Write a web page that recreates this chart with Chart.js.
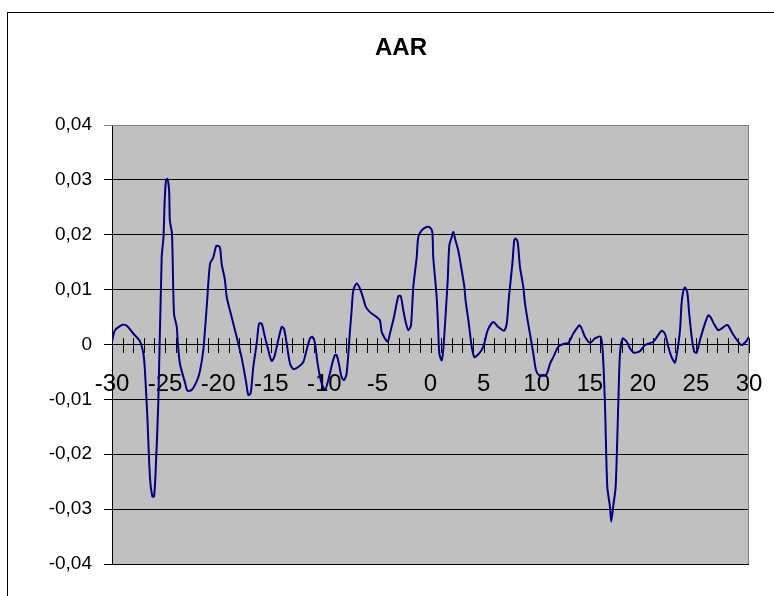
<!DOCTYPE html>
<html>
<head>
<meta charset="utf-8">
<script src="https://cdn.jsdelivr.net/npm/chart.js@4/dist/chart.umd.min.js"></script>
<style>
  html, body { margin: 0; padding: 0; background: #ffffff; }
  canvas { display: block; }
</style>
</head>
<body>
<canvas id="aar" width="774" height="596"></canvas>
<script>
// Event window (days relative to the event) and average abnormal return
const eventDays = [
  -30.00, -29.72, -29.00, -28.60, -28.00, -27.40, -27.05, -26.90, -26.67, -26.42,
  -26.20, -26.04, -25.90, -25.64, -25.32, -25.15, -25.05, -24.92, -24.78, -24.62,
  -24.55, -24.35, -24.16, -23.90, -23.80, -23.60, -23.10, -22.90, -22.50, -21.97,
  -21.70, -21.40, -21.08, -20.77, -20.46, -20.20, -20.05, -19.83, -19.67, -19.36,
  -19.20, -18.73, -18.26, -17.80, -17.40, -17.16, -16.94, -16.69, -16.37, -16.15,
  -15.90, -15.60, -15.28, -14.97, -14.72, -14.34, -14.02, -13.80, -13.55, -13.23,
  -12.92, -12.45, -11.98, -11.75, -11.35, -11.13, -10.88, -10.63, -10.30, -9.94,
  -9.63, -9.22, -9.00, -8.84, -8.60, -8.38, -8.15, -7.90, -7.58, -7.43,
  -7.27, -6.96, -6.65, -6.33, -6.08, -5.70, -5.07, -4.76, -4.60, -4.29,
  -4.03, -3.82, -3.44, -3.03, -2.80, -2.56, -2.30, -2.09, -1.84, -1.62,
  -1.30, -1.15, -0.83, -0.37, -0.05, 0.17, 0.26, 0.58, 0.73, 0.83,
  1.05, 1.20, 1.43, 1.62, 1.77, 2.00, 2.15, 2.31, 2.62, 2.94,
  3.19, 3.30, 3.57, 3.88, 4.13, 4.44, 4.82, 5.07, 5.39, 5.91,
  6.38, 6.92, 7.18, 7.39, 7.71, 7.89, 8.02, 8.21, 8.43, 8.74,
  8.90, 9.15, 9.45, 9.68, 9.94, 10.25, 10.88, 11.26, 11.57, 12.04,
  12.51, 12.98, 13.45, 14.02, 14.24, 14.55, 15.02, 15.49, 16.03, 16.22,
  16.43, 16.65, 16.90, 17.02, 17.21, 17.44, 17.69, 17.85, 18.10, 18.48,
  18.79, 19.17, 19.73, 20.20, 20.98, 21.45, 21.77, 22.08, 22.40, 22.71,
  23.02, 23.24, 23.50, 23.65, 23.80, 23.96, 24.18, 24.37, 24.60, 24.84,
  25.07, 25.38, 25.85, 26.16, 26.38, 26.69, 27.10, 27.41, 27.82, 28.03,
  28.45, 28.98, 29.29, 29.70, 30.00
];

const aarValues = [
  0.0005, 0.0026, 0.0036, 0.0034, 0.0020, 0.0007, -0.0016, -0.0047, -0.0132, -0.0244,
  -0.0277, -0.0277, -0.0235, -0.0107, 0.0159, 0.0196, 0.0256, 0.0299, 0.0302, 0.0280,
  0.0226, 0.0202, 0.0056, 0.0032, 0.0002, -0.0035, -0.0071, -0.0084, -0.0083, -0.0065,
  -0.0047, -0.0010, 0.0068, 0.0147, 0.0159, 0.0179, 0.0180, 0.0177, 0.0147, 0.0117,
  0.0087, 0.0050, 0.0014, -0.0023, -0.0065, -0.0092, -0.0089, -0.0041, 0.0002, 0.0038,
  0.0038, 0.0014, -0.0010, -0.0030, -0.0023, 0.0008, 0.0032, 0.0029, 0.0002, -0.0035,
  -0.0045, -0.0041, -0.0032, -0.0016, 0.0011, 0.0014, 0.0002, -0.0035, -0.0068, -0.0083,
  -0.0065, -0.0032, -0.0019, -0.0019, -0.0038, -0.0059, -0.0065, -0.0053, 0.0026, 0.0062,
  0.0099, 0.0111, 0.0102, 0.0084, 0.0068, 0.0059, 0.0050, 0.0044, 0.0023, 0.0011,
  0.0005, 0.0020, 0.0050, 0.0088, 0.0088, 0.0062, 0.0038, 0.0026, 0.0035, 0.0105,
  0.0159, 0.0196, 0.0208, 0.0214, 0.0213, 0.0205, 0.0159, 0.0087, 0.0026, -0.0016,
  -0.0029, -0.0010, 0.0056, 0.0117, 0.0180, 0.0196, 0.0205, 0.0193, 0.0171, 0.0135,
  0.0105, 0.0081, 0.0044, -0.0004, -0.0023, -0.0019, -0.0010, 0.0002, 0.0026, 0.0041,
  0.0032, 0.0025, 0.0038, 0.0087, 0.0147, 0.0190, 0.0193, 0.0187, 0.0141, 0.0105,
  0.0075, 0.0044, 0.0010, -0.0016, -0.0047, -0.0056, -0.0056, -0.0035, -0.0023, -0.0004,
  0.0001, 0.0003, 0.0020, 0.0035, 0.0029, 0.0014, 0.0003, 0.0011, 0.0014, -0.0013,
  -0.0107, -0.0259, -0.0295, -0.0323, -0.0295, -0.0259, -0.0107, -0.0016, 0.0011, 0.0005,
  -0.0007, -0.0015, -0.0012, -0.0001, 0.0005, 0.0017, 0.0025, 0.0020, -0.0004, -0.0023,
  -0.0033, -0.0013, 0.0026, 0.0075, 0.0096, 0.0104, 0.0096, 0.0056, 0.0014, -0.0013,
  -0.0015, 0.0008, 0.0038, 0.0053, 0.0050, 0.0038, 0.0026, 0.0029, 0.0035, 0.0035,
  0.0020, 0.0005, -0.0001, 0.0005, 0.0014
];

// Axis ranges and tick spacing
const xRange = [-30, 30];
const xLabelStep = 5;
const xMinorStep = 1;
const yRange = [-0.04, 0.04];
const yStep = 0.01;

const chartTitle = 'AAR';

const FONT = "'Liberation Sans', Arial, Helvetica, sans-serif";

const points = eventDays.map((d, i) => ({ x: d, y: aarValues[i] }));

function formatComma(v) {
  if (Math.abs(v) < 1e-9) return '0';
  return v.toFixed(2).replace('.', ',');
}

// Outer frame, title, grey plot area, crossing minor ticks on the zero line
const framePlugin = {
  id: 'frame',
  beforeDraw(chart) {
    const { ctx, chartArea: a } = chart;
    ctx.save();
    ctx.fillStyle = '#ffffff';
    ctx.fillRect(0, 0, chart.width, chart.height);
    ctx.strokeStyle = '#000000';
    ctx.lineWidth = 1;
    ctx.strokeRect(7.5, 12.5, chart.width + 20, chart.height + 20);
    ctx.fillStyle = '#c0c0c0';
    ctx.fillRect(a.left, a.top, a.right - a.left, a.bottom - a.top);

    // chart title, centred on the outer frame
    ctx.fillStyle = '#000000';
    ctx.font = 'bold 24px ' + FONT;
    ctx.textAlign = 'center';
    ctx.textBaseline = 'middle';
    ctx.fillText(chartTitle, 401, 48);
    ctx.restore();
  },
  beforeDatasetsDraw(chart) {
    const { ctx, chartArea: a, scales } = chart;
    ctx.save();
    ctx.strokeStyle = '#808080';
    ctx.lineWidth = 1;
    ctx.beginPath();
    ctx.moveTo(a.left, a.top + 0.5);
    ctx.lineTo(Math.round(a.right) - 0.5, a.top + 0.5);
    ctx.lineTo(Math.round(a.right) - 0.5, a.bottom);
    ctx.stroke();

    const y0 = Math.round(scales.y.getPixelForValue(0));
    ctx.strokeStyle = '#000000';
    ctx.beginPath();
    for (let v = xRange[0]; v <= xRange[1]; v += xMinorStep) {
      const px = Math.round(scales.x.getPixelForValue(v)) + 0.5;
      ctx.moveTo(px, y0 - 7);
      ctx.lineTo(px, y0 + 8);
    }
    ctx.stroke();
    ctx.restore();
  }
};

new Chart(document.getElementById('aar'), {
  type: 'line',
  data: {
    datasets: [{
      label: chartTitle,
      data: points,
      borderColor: '#000080',
      borderWidth: 2,
      pointRadius: 0,
      tension: 0.25,
      fill: false
    }]
  },
  options: {
    responsive: false,
    animation: false,
    layout: { padding: { left: 0, right: 25, top: 125, bottom: 32 } },
    plugins: {
      legend: { display: false },
      tooltip: { enabled: false },
      title: { display: false }
    },
    scales: {
      x: {
        type: 'linear',
        min: xRange[0],
        max: xRange[1],
        position: { y: 0 },
        afterFit(scale) {
          scale.height = 0;
          scale.paddingLeft = 0;
          scale.paddingRight = 0;
        },
        grid: { display: false, drawTicks: false },
        border: { display: false },
        ticks: {
          stepSize: xLabelStep,
          autoSkip: false,
          maxRotation: 0,
          padding: 25,
          color: '#000000',
          font: { family: FONT, size: 24 }
        }
      },
      y: {
        type: 'linear',
        min: yRange[0],
        max: yRange[1],
        afterFit(scale) { scale.width = 112; },
        grid: {
          color: (c) => (c.tick && Math.abs(c.tick.value - yRange[1]) < 1e-9) ? '#808080' : '#000000',
          lineWidth: 1,
          drawTicks: true,
          tickLength: 8
        },
        border: { display: true, color: '#000000', width: 1 },
        ticks: {
          stepSize: yStep,
          padding: 12,
          color: '#000000',
          font: { family: FONT, size: 19 },
          callback: (v) => formatComma(v)
        }
      }
    }
  },
  plugins: [framePlugin]
});
</script>
</body>
</html>
